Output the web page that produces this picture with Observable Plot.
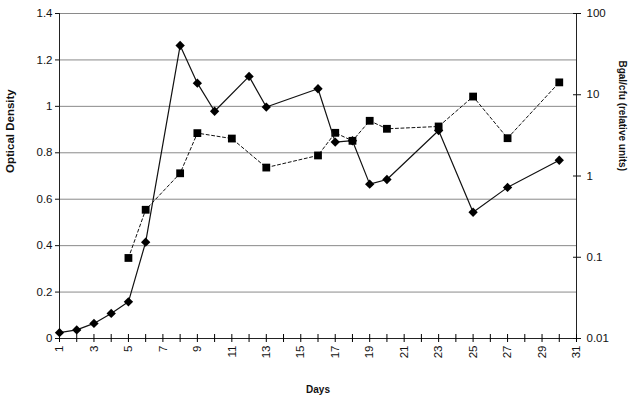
<!DOCTYPE html>
<html><head><meta charset="utf-8">
<script src="https://cdn.jsdelivr.net/npm/d3@7"></script>
<script src="https://cdn.jsdelivr.net/npm/@observablehq/plot@0.6"></script>
<style>body{margin:0;background:#fff;} svg{font-family:"Liberation Sans",Arial,sans-serif;}</style>
</head><body><div id="chart"></div>
<script>
// Optical density (left axis, solid line, diamonds)
const odDays   = [1, 2, 3, 4, 5, 6, 8, 9, 10, 12, 13, 16, 17, 18, 19, 20, 23, 25, 27, 30];
const odValues = [0.025, 0.037, 0.065, 0.108, 0.158, 0.415, 1.262, 1.10, 0.979, 1.129, 0.997, 1.076, 0.846, 0.852, 0.665, 0.685, 0.896, 0.544, 0.651, 0.768];
// Bgal/cfu (right log axis, dashed line, squares)
const bgalDays   = [5, 6, 8, 9, 11, 13, 16, 17, 18, 19, 20, 23, 25, 27, 30];
const bgalValues = [0.098, 0.384, 1.08, 3.37, 2.89, 1.27, 1.79, 3.40, 2.71, 4.78, 3.81, 4.07, 9.5, 2.92, 14.2];
// Tick labels
const leftTicks = [0, 0.2, 0.4, 0.6, 0.8, 1, 1.2, 1.4];
const leftTickLabels = ["0", "0.2", "0.4", "0.6", "0.8", "1", "1.2", "1.4"];
const rightTicks = [0.01, 0.1, 1, 10, 100];
const rightTickLabels = ["0.01", "0.1", "1", "10", "100"];
const dayTicks = d3.range(1, 32);
const dayLabels = d3.range(1, 32, 2);

const odMax = 1.4;
const logMin = -2, logMax = 2;
const toLeft = v => (Math.log10(v) - logMin) / (logMax - logMin) * odMax;

const od = odDays.map((d, i) => ({day: d, value: odValues[i]}));
const bgal = bgalDays.map((d, i) => ({day: d, value: toLeft(bgalValues[i])}));

const fs = 11.5;
const chart = Plot.plot({
  width: 632,
  height: 403,
  marginTop: 13,
  marginBottom: 65,
  marginLeft: 59,
  marginRight: 56,
  x: {domain: [1, 31], axis: null},
  y: {domain: [0, odMax], axis: null},
  style: {fontFamily: "'Liberation Sans', Arial, sans-serif", background: "#fff"},
  marks: [
    Plot.ruleY(leftTicks.filter(d => d > 0), {stroke: "#8a8a8a", strokeWidth: 1}),
    Plot.ruleY([0], {stroke: "#222", strokeWidth: 1}),
    Plot.ruleX([1, 31], {stroke: "#222", strokeWidth: 1}),
    Plot.axisY({anchor: "left", ticks: leftTicks, tickSize: 4, tickPadding: 3,
      tickFormat: d => leftTickLabels[leftTicks.indexOf(d)], label: null, fontSize: fs, color: "#111"}),
    Plot.axisY({anchor: "right", ticks: rightTicks.map(toLeft), tickSize: 8, dx: -4, tickPadding: 6,
      tickFormat: (d, i) => rightTickLabels[i], label: null, fontSize: fs, color: "#111"}),
    Plot.axisX({anchor: "bottom", ticks: dayTicks, tickSize: 8, dy: -4, tickFormat: () => "", label: null}),
    Plot.axisX({anchor: "bottom", ticks: dayLabels, tickSize: 0, tickPadding: 7, tickRotate: -90,
      tickFormat: d => String(d), label: null, fontSize: fs, color: "#111"}),
    Plot.line(bgal, {x: "day", y: "value", stroke: "#111", strokeWidth: 1, strokeDasharray: "3,2.5"}),
    Plot.dot(bgal, {x: "day", y: "value", symbol: "square", r: 4.4, fill: "#000", stroke: "none"}),
    Plot.line(od, {x: "day", y: "value", stroke: "#111", strokeWidth: 1.2}),
    Plot.dot(od, {x: "day", y: "value", symbol: "diamond2", r: 4.2, fill: "#000", stroke: "none"}),
    Plot.text(["Optical Density"], {text: d => d, frameAnchor: "left", dx: -49, dy: -3, rotate: -90, fontWeight: "bold", fontSize: 11.5, fill: "#111"}),
    Plot.text(["Bgal/cfu (relative units)"], {text: d => d, frameAnchor: "right", dx: 46, dy: -5, rotate: 90, fontWeight: "bold", fontSize: 10, fill: "#111"}),
    Plot.text(["Days"], {text: d => d, frameAnchor: "bottom", dy: 54, fontWeight: "bold", fontSize: 10, fill: "#111"})
  ]
});
document.getElementById("chart").appendChild(chart);
</script>
</body></html>
